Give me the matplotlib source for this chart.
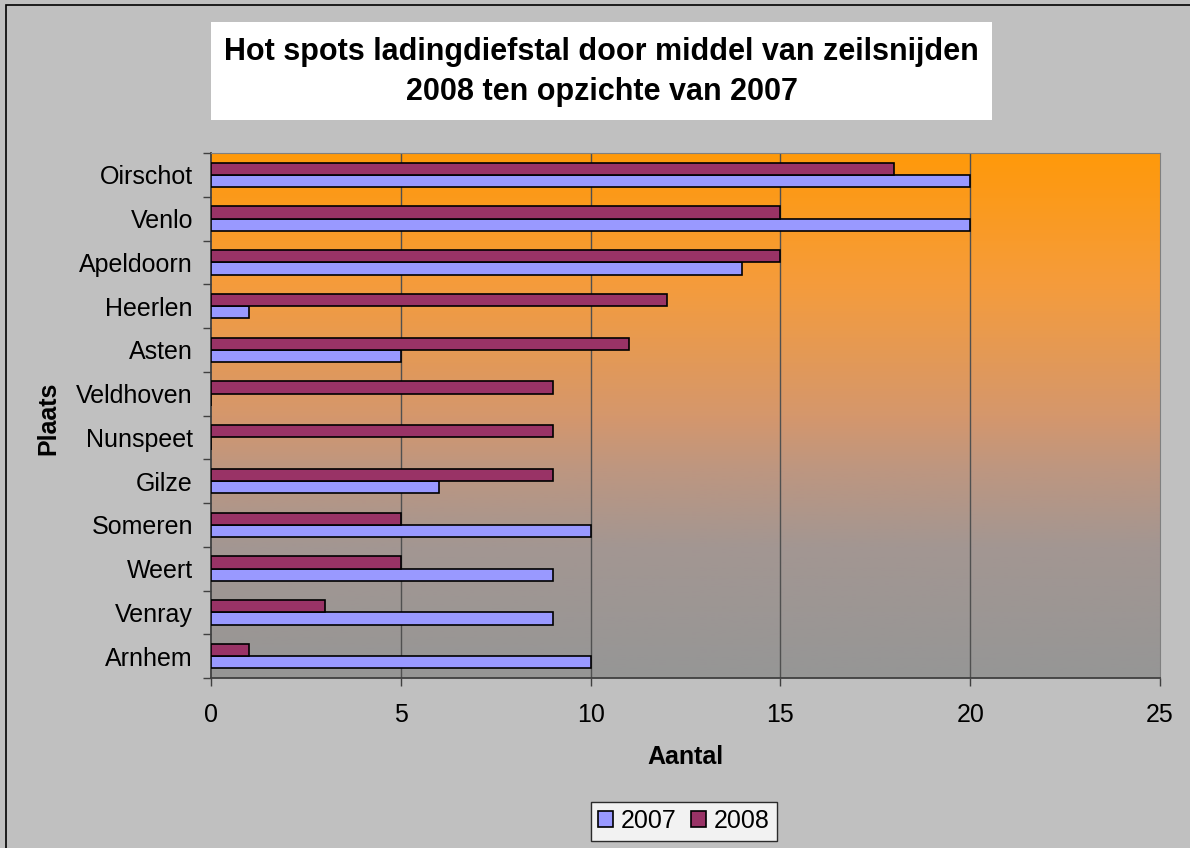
import numpy as np
import matplotlib.pyplot as plt
from matplotlib.colors import LinearSegmentedColormap
from matplotlib.patches import Rectangle

plt.rcParams['font.family'] = ['Liberation Sans', 'DejaVu Sans']

places = ['Arnhem', 'Venray', 'Weert', 'Someren', 'Gilze', 'Nunspeet',
          'Veldhoven', 'Asten', 'Heerlen', 'Apeldoorn', 'Venlo', 'Oirschot']
vals_2007 = [10, 9, 9, 10, 6, 0, 0, 5, 1, 14, 20, 20]
vals_2008 = [1, 3, 5, 5, 9, 9, 9, 11, 12, 15, 15, 18]
xticks = [0, 5, 10, 15, 20, 25]

W, H = 1190, 848
fig = plt.figure(figsize=(W / 100, H / 100), dpi=100)
fig.patch.set_facecolor('#C0C0C0')
# outer chart border
fig.patches.append(Rectangle((6 / W, -0.01), 1.2, 1 - 5 / H + 0.01,
                             transform=fig.transFigure, fill=False,
                             edgecolor='black', linewidth=1.2))

ax = fig.add_axes([211 / W, 1 - 678 / H, 949 / W, 525 / H])

# vertical gradient background, grey at the bottom to orange at the top
stops = [(0.0, (150, 150, 150)), (0.25, (163, 150, 146)),
         (0.4, (190, 150, 128)), (0.5, (213, 151, 108)),
         (0.75, (245, 156, 60)), (1.0, (255, 153, 10))]
cmap = LinearSegmentedColormap.from_list(
    'bg', [(p, tuple(c / 255 for c in rgb)) for p, rgb in stops])
grad = np.linspace(0, 1, 256).reshape(-1, 1)
ax.imshow(grad, cmap=cmap, aspect='auto', origin='lower',
          extent=[0, 1, 0, 1], transform=ax.transAxes, zorder=0)

y = np.arange(len(places))
h = 0.28
ax.barh(y - h / 2, vals_2007, height=h, color='#9999FF', edgecolor='black',
        linewidth=1.2, label='2007', zorder=3)
ax.barh(y + h / 2, vals_2008, height=h, color='#993366', edgecolor='black',
        linewidth=1.2, label='2008', zorder=3)

ax.set_xlim(0, 25)
ax.set_ylim(-0.5, len(places) - 0.5)
ax.set_xticks(xticks)
ax.set_xticklabels([str(t) for t in xticks], fontsize=18)
ax.set_yticks(y)
ax.set_yticklabels(places, fontsize=18)
ax.tick_params(axis='y', length=0, pad=13)
ax.set_yticks(np.arange(-0.5, len(places)), minor=True)
ax.tick_params(axis='y', which='minor', length=6, width=1, color='#404040')
ax.tick_params(axis='x', length=6, width=1, color='#404040', pad=12)

for t in xticks[1:-1]:
    ax.axvline(t, color='#505050', linewidth=1, zorder=1)

for side in ['left', 'bottom']:
    ax.spines[side].set_color('#404040')
    ax.spines[side].set_linewidth(1.3)
for side in ['top', 'right']:
    ax.spines[side].set_color('#808080')

fig.text(685 / W, 1 - 757 / H, 'Aantal', ha='center', va='center',
         fontsize=18, fontweight='bold')
fig.text(48 / W, 1 - 418 / H, 'Plaats', ha='center', va='center',
         fontsize=18, fontweight='bold', rotation=90)

fig.text(0.5 * (211 + 992) / W, 1 - 72 / H,
         'Hot spots ladingdiefstal door middel van zeilsnijden\n2008 ten opzichte van 2007',
         ha='center', va='center', fontsize=22, fontweight='bold',
         linespacing=1.4)
fig.patches.append(Rectangle((211 / W, 1 - 120 / H), 781 / W, 98 / H,
                             transform=fig.transFigure, facecolor='white',
                             edgecolor='none', zorder=0))

leg = fig.legend(loc='center', bbox_to_anchor=(684 / W, 1 - 821 / H),
                 ncol=2, fontsize=18, frameon=True, fancybox=False,
                 handlelength=0.6, handleheight=0.6, handletextpad=0.3,
                 columnspacing=0.6, borderpad=0.3)
leg.get_frame().set_edgecolor('black')
leg.get_frame().set_facecolor('white')

fig.savefig('out.png', dpi=100, facecolor=fig.get_facecolor())
